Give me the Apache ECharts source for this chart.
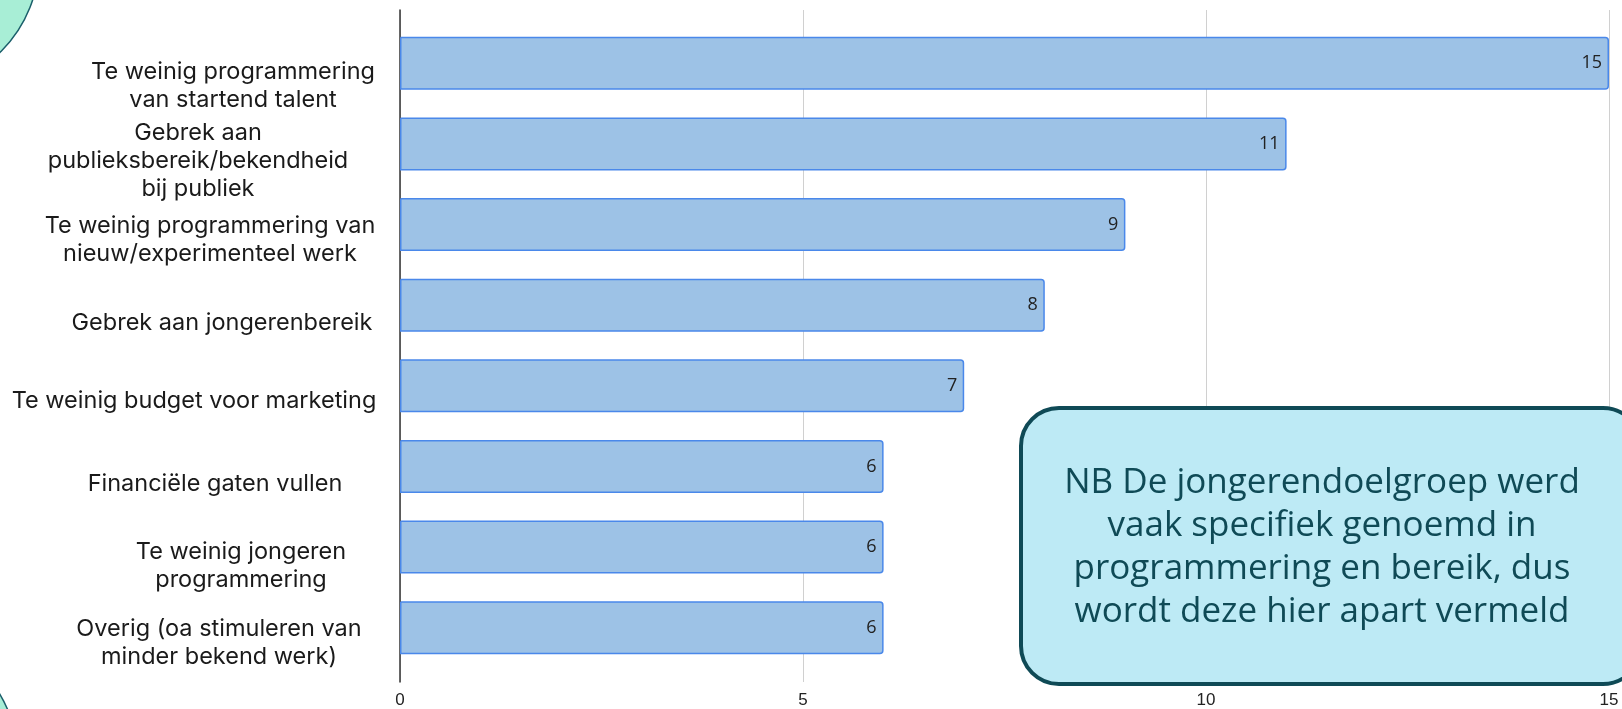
<!DOCTYPE html>
<html>
<head>
<meta charset="utf-8">
<script src="https://cdn.jsdelivr.net/npm/echarts@6/dist/echarts.min.js"></script>
<style>
  html, body { margin: 0; padding: 0; background: #fff; }
  #chart { width: 1622px; height: 709px; }
</style>
</head>
<body>
<div id="chart"></div>
<script>
// knelpunten, van boven naar beneden
const categories = [
  "Te weinig programmering\nvan startend talent",
  "Gebrek aan\npublieksbereik/bekendheid\nbij publiek",
  "Te weinig programmering van\nnieuw/experimenteel werk",
  "Gebrek aan jongerenbereik",
  "Te weinig budget voor marketing",
  "Financiële gaten vullen",
  "Te weinig jongeren\nprogrammering",
  "Overig (oa stimuleren van\nminder bekend werk)",
];
const counts = [15, 11, 9, 8, 7, 6, 6, 6];
const xTicks = [0, 5, 10, 15];
const note =
  "NB De jongerendoelgroep werd\nvaak specifiek genoemd in\nprogrammering en bereik, dus\nwordt deze hier apart vermeld";

// the labels in the original are not all placed the same way,
// nudge each one a little (px; x: + = right, y: + = down)
const labelNudgeX = [18, -17, -5, 7, -21, 0, 26, 4];
const labelNudgeY = [8, 2, 0, 3, 0, 2, 4, 0];

const labelFont = {
  color: "#1a1a1a",
  fontSize: 23.5,
  lineHeight: 28,
  fontFamily: "Inter, Noto Sans, sans-serif",
};
const rich = {};
labelNudgeX.forEach((d, i) => {
  const left = d > 0 ? 2 * d : 0;
  const right = d < 0 ? -2 * d : 0;
  rich["r" + i] = Object.assign({}, labelFont, {
    padding: [2 * labelNudgeY[i], right, 0, left],
  });
});

const chart = echarts.init(document.getElementById("chart"));

const option = {
  animation: false,
  grid: [
    // bars
    { left: 400, right: 13, top: 23, bottom: 41 },
    // full-height axis frame (grid lines + value labels)
    { left: 400, right: 13, top: 10, bottom: 27 },
    // category labels, sit a bit lower than the bars
    { left: 400, right: 13, top: 38, bottom: 26 },
  ],
  xAxis: [
    {
      gridIndex: 0,
      type: "value",
      min: xTicks[0],
      max: xTicks[xTicks.length - 1],
      interval: 5,
      show: false,
    },
    {
      gridIndex: 1,
      type: "value",
      min: xTicks[0],
      max: xTicks[xTicks.length - 1],
      interval: 5,
      axisLine: { show: false },
      axisTick: { show: false },
      splitLine: { show: true, lineStyle: { color: "#d0d0d0", width: 1 } },
      axisLabel: {
        margin: 10,
        color: "#222",
        fontSize: 17,
        fontFamily: "Liberation Sans, Arial, sans-serif",
      },
    },
    {
      gridIndex: 2,
      type: "value",
      min: 0,
      max: 15,
      show: false,
    },
  ],
  yAxis: [
    {
      gridIndex: 0,
      type: "category",
      inverse: true,
      data: categories,
      axisLine: { show: false },
      axisTick: { show: false },
      axisLabel: { show: false },
    },
    {
      gridIndex: 1,
      type: "value",
      axisLine: { show: true, onZero: false, lineStyle: { color: "#333", width: 1.5 } },
      axisTick: { show: false },
      axisLabel: { show: false },
      splitLine: { show: false },
    },
    {
      gridIndex: 2,
      type: "category",
      inverse: true,
      data: categories,
      axisLine: { show: false },
      axisTick: { show: false },
      axisLabel: Object.assign({}, labelFont, {
        interval: 0,
        margin: 185,
        align: "center",
        rich: rich,
        formatter: (value, index) =>
          value
            .split("\n")
            .map((line) => "{r" + index + "|" + line + "}")
            .join("\n"),
      }),
    },
  ],
  series: [
    {
      type: "bar",
      xAxisIndex: 0,
      yAxisIndex: 0,
      data: counts,
      barWidth: 53,
      itemStyle: {
        color: "#9dc2e6",
        borderColor: "#4a88ea",
        borderWidth: 1.5,
        borderRadius: [0, 3, 3, 0],
      },
      label: {
        show: true,
        position: "insideRight",
        distance: 7,
        color: "#222",
        fontSize: 18,
        fontFamily: "Open Sans, Noto Sans, sans-serif",
      },
    },
  ],
  graphic: [
    // decorative circles at the left edge
    {
      type: "circle",
      shape: { cx: -90, cy: -40, r: 129 },
      style: { fill: "#a8eed6", stroke: "#1b5f6b", lineWidth: 1.5 },
      z: 1,
    },
    {
      type: "circle",
      shape: { cx: -110, cy: 760, r: 128 },
      style: { fill: "#a8eed6", stroke: "#1b5f6b", lineWidth: 1.5 },
      z: 1,
    },
    // annotation box
    {
      type: "rect",
      shape: { x: 1021, y: 408, width: 620, height: 276, r: 38 },
      style: { fill: "#bdeaf5", stroke: "#0f4a56", lineWidth: 4 },
      z: 100,
    },
    {
      type: "text",
      x: 1322,
      y: 548,
      style: {
        text: note,
        fill: "#0f4a56",
        fontSize: 35,
        lineHeight: 43,
        fontFamily: "Open Sans, sans-serif",
        align: "center",
        verticalAlign: "middle",
      },
      z: 101,
    },
  ],
};

chart.setOption(option);
</script>
</body>
</html>
